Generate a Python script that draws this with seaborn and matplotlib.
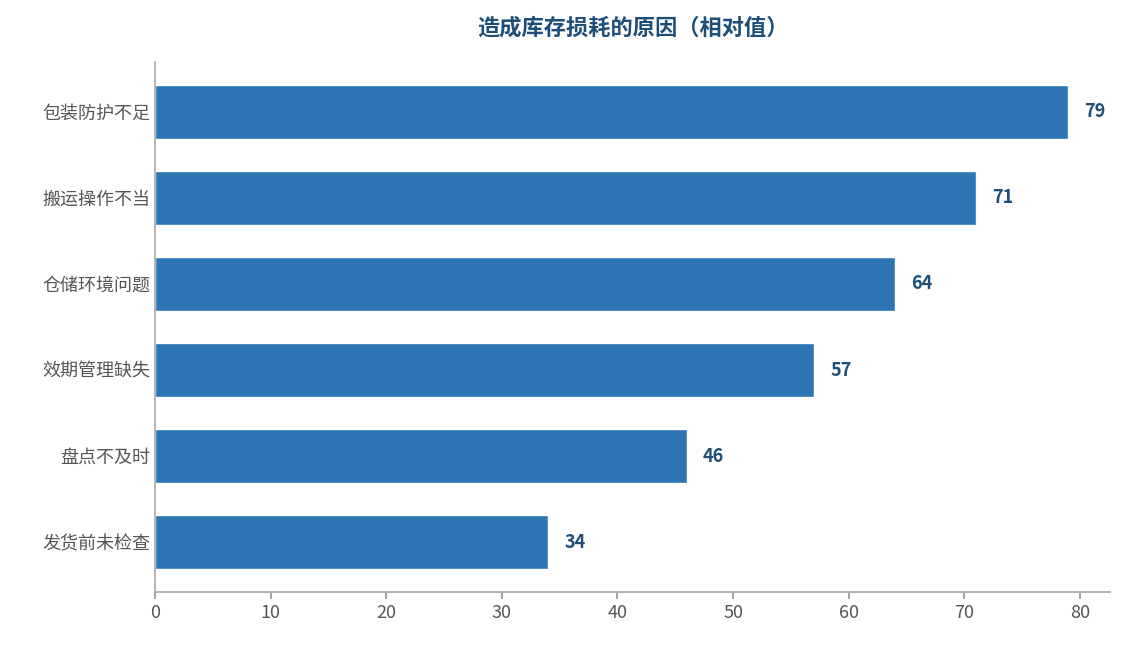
import matplotlib
matplotlib.use("Agg")
import matplotlib.pyplot as plt
import seaborn as sns
import pandas as pd

categories = ["包装防护不足", "搬运操作不当", "仓储环境问题", "效期管理缺失", "盘点不及时", "发货前未检查"]
values = [79, 71, 64, 57, 46, 34]
title = "造成库存损耗的原因（相对值）"

sns.set_theme(style="white")
plt.rcParams['font.family'] = ['Noto Sans CJK SC', 'DejaVu Sans']

df = pd.DataFrame({"cat": categories, "val": values})
fig = plt.figure(figsize=(11.24, 6.45), dpi=100)
ax = fig.add_axes([155/1124, 1-592/645, (1110-155)/1124, (592-62)/645])
sns.barplot(data=df, x="val", y="cat", color="#2e75b6", saturation=1, width=0.62, ax=ax)
ax.set_xlim(0, 82.6)
ax.set_ylim(5.58, -0.58)
ax.set_xlabel("")
ax.set_ylabel("")
ax.set_xticks(range(0, 81, 10))
for i, v in enumerate(values):
    ax.text(v + 1.4, i, str(v), va="center", ha="left", fontsize=13, fontweight="bold", color="#1f4e79")
ax.tick_params(axis="both", labelsize=13, colors="#555555", length=0)
ax.tick_params(axis="x", length=5, color="#999999", bottom=True)
for s in ["top", "right"]:
    ax.spines[s].set_visible(False)
for s in ["left", "bottom"]:
    ax.spines[s].set_color("#aaaaaa")
fig.text((155+1110)/2/1124, 1-28/645, title, ha="center", va="center", fontsize=16, fontweight="bold", color="#1f4e79")
fig.savefig("out.png", dpi=100)
